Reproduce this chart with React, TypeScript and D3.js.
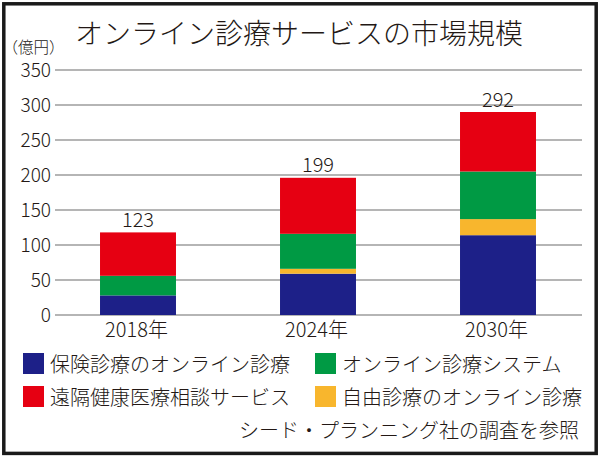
import React from "react";
import * as d3 from "d3";

const title = "オンライン診療サービスの市場規模";
const unitLabel = "（億円）";
const sourceNote = "シード・プランニング社の調査を参照";

const years = ["2018年", "2024年", "2030年"];
const totalLabels = ["123", "199", "292"];

const seriesNames = [
  "保険診療のオンライン診療",
  "自由診療のオンライン診療",
  "オンライン診療システム",
  "遠隔健康医療相談サービス",
];
const insuredOnline = [28, 59, 114];
const privateOnline = [0, 7, 23];
const onlineSystem = [28, 50, 68];
const remoteConsult = [62, 80, 85];

const yTicks = [0, 50, 100, 150, 200, 250, 300, 350];

const colors = ["#1d2088", "#f8b62d", "#009a44", "#e60012"];

// legend order: [series index, column, row]
const legendLayout: [number, number, number][] = [
  [0, 0, 0],
  [2, 1, 0],
  [3, 0, 1],
  [1, 1, 1],
];

const FONT = "'Noto Sans CJK JP', 'Noto Sans', sans-serif";
const TEXT = "#231815";

export default function App() {
  const W = 600;
  const H = 457;
  const keys = ["k0", "k1", "k2", "k3"];
  const rows = years.map((y, i) => ({
    year: y,
    k0: insuredOnline[i],
    k1: privateOnline[i],
    k2: onlineSystem[i],
    k3: remoteConsult[i],
  }));
  const stacked = d3.stack<any>().keys(keys)(rows);

  const y = d3.scaleLinear().domain([0, 350]).range([315, 70]);
  const x = d3
    .scaleBand<string>()
    .domain(years)
    .range([48, 588])
    .paddingInner(0.578)
    .paddingOuter(0.289);

  const gridX0 = 55;
  const gridX1 = 582;

  return (
    <svg
      width={W}
      height={H}
      style={{ position: "absolute", left: 0, top: 0, background: "#fff" }}
      fontFamily={FONT}
      fontWeight={300}
    >
      <rect x={0} y={0} width={W} height={H} fill="#fff" />
      <rect
        x={3.8}
        y={3.8}
        width={592.4}
        height={449.6}
        fill="none"
        stroke="#1a1a1a"
        strokeWidth={3.5}
      />
      <text x={75} y={44} fontSize={28} fill={TEXT}>
        {title}
      </text>
      <text x={33.5} y={52.5} fontSize={15.5} fill={TEXT} textAnchor="middle">
        {unitLabel}
      </text>

      {yTicks.map((t) => (
        <g key={t}>
          <line
            x1={gridX0}
            x2={gridX1}
            y1={y(t)}
            y2={y(t)}
            stroke="#9d9d9d"
            strokeWidth={1.3}
          />
          <text
            x={51}
            y={y(t)}
            dy="0.36em"
            fontSize={19}
            textAnchor="end"
            fill={TEXT}
          >
            {t}
          </text>
        </g>
      ))}

      {stacked.map((s, si) => (
        <g key={si} fill={colors[si]}>
          {s.map((d: any, i: number) => {
            const h = y(d[0]) - y(d[1]);
            if (h <= 0) return null;
            return (
              <rect
                key={i}
                x={x(years[i])}
                y={y(d[1])}
                width={x.bandwidth()}
                height={h}
              />
            );
          })}
        </g>
      ))}

      {years.map((yr, i) => {
        const top = stacked[stacked.length - 1][i][1];
        const cx = (x(yr) as number) + x.bandwidth() / 2;
        return (
          <g key={yr}>
            <text
              x={cx}
              y={y(top) - 5.5}
              fontSize={20}
              textAnchor="middle"
              fill={TEXT}
            >
              {totalLabels[i]}
            </text>
            <text
              x={cx - 1.5}
              y={337}
              fontSize={20}
              textAnchor="middle"
              fill={TEXT}
            >
              {yr}
            </text>
          </g>
        );
      })}

      {legendLayout.map(([si, col, row]) => {
        const lx = col === 0 ? 23 : 315;
        const ly = row === 0 ? 353 : 386;
        return (
          <g key={si}>
            <rect x={lx} y={ly} width={21} height={21} fill={colors[si]} />
            <text x={lx + 27} y={ly + 19} fontSize={20} fill={TEXT}>
              {seriesNames[si]}
            </text>
          </g>
        );
      })}

      <text x={579} y={438} fontSize={20} textAnchor="end" fill={TEXT}>
        {sourceNote}
      </text>
    </svg>
  );
}
